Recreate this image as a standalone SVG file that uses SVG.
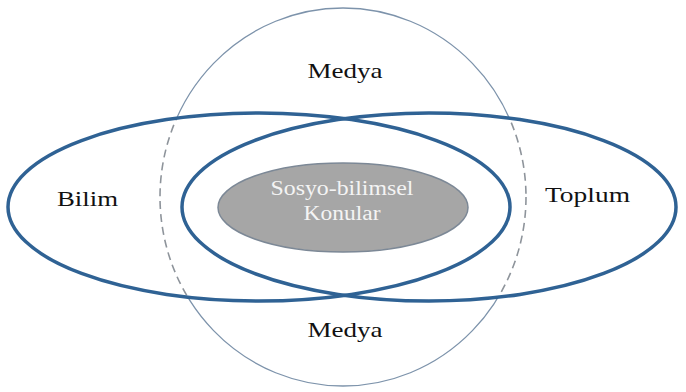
<svg xmlns="http://www.w3.org/2000/svg" width="686" height="392" viewBox="0 0 686 392">
  <style>
    text { font-family: 'Liberation Serif', 'DejaVu Serif', serif; }
    .lbl { font-size: 22px; fill: #111111; text-anchor: middle; }
    .inner { font-size: 20px; fill: #f4f4f4; text-anchor: middle; }
    .thick { fill: none; stroke: #2f6294; stroke-width: 3.5; }
    .thin { fill: none; stroke: #7d93ab; stroke-width: 1.3; }
    .dash { fill: none; stroke: #8e949b; stroke-width: 1.6; stroke-dasharray: 8 5; }
  </style>
  <defs>
    <clipPath id="inside">
      <ellipse cx="259" cy="207" rx="251" ry="94"/>
      <ellipse cx="429" cy="207" rx="247" ry="94"/>
    </clipPath>
    <mask id="outside">
      <rect x="0" y="0" width="686" height="392" fill="#fff"/>
      <ellipse cx="259" cy="207" rx="251" ry="94" fill="#000"/>
      <ellipse cx="429" cy="207" rx="247" ry="94" fill="#000"/>
    </mask>
  </defs>
  <rect width="686" height="392" fill="#ffffff"/>
  <g id="medya">
    <ellipse class="thin" cx="343" cy="197" rx="183" ry="189" mask="url(#outside)"/>
    <ellipse class="dash" cx="343" cy="197" rx="183" ry="189" clip-path="url(#inside)"/>
    <text class="lbl" x="345" y="78" textLength="75" lengthAdjust="spacingAndGlyphs">Medya</text>
    <text class="lbl" x="345" y="337" textLength="75" lengthAdjust="spacingAndGlyphs">Medya</text>
  </g>
  <g id="bilim">
    <ellipse class="thick" cx="259" cy="207" rx="251" ry="94"/>
    <text class="lbl" x="87.5" y="206" textLength="61" lengthAdjust="spacingAndGlyphs">Bilim</text>
  </g>
  <g id="toplum">
    <ellipse class="thick" cx="429" cy="207" rx="247" ry="94"/>
    <text class="lbl" x="587.5" y="202" textLength="85" lengthAdjust="spacingAndGlyphs">Toplum</text>
  </g>
  <g id="konular">
    <ellipse cx="343" cy="207.5" rx="125" ry="44.5" fill="#a6a6a6" stroke="#7c8896" stroke-width="1.5"/>
    <text class="inner" x="342" y="195" textLength="143" lengthAdjust="spacingAndGlyphs">Sosyo-bilimsel</text>
    <text class="inner" x="342" y="220" textLength="77" lengthAdjust="spacingAndGlyphs">Konular</text>
  </g>
  <g id="connectors"/>
</svg>
